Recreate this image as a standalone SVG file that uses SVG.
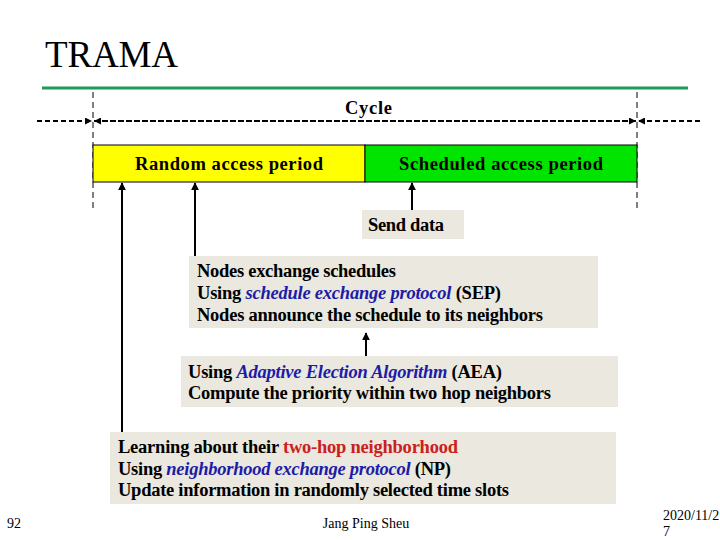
<svg xmlns="http://www.w3.org/2000/svg" width="720" height="540" viewBox="0 0 720 540">
<style>
.t{font-family:"Liberation Serif","Times New Roman",serif;font-weight:bold;font-size:18.5px;fill:#000}
.b{fill:#1c1ca8;font-style:italic}
.r{fill:#cc2020}
.box{fill:#ebe8df}
.dash{stroke:#000;stroke-width:2;stroke-dasharray:5,3;fill:none}
.vd{stroke:#000;stroke-width:1;stroke-dasharray:6,4;fill:none}
.arr{stroke:#000;stroke-width:2;fill:none;marker-end:url(#ah)}
.foot{font-family:"Liberation Serif","Times New Roman",serif;font-size:14px;fill:#000}
</style>
<defs>
<marker id="ah" viewBox="0 0 10 10" refX="9" refY="5" markerWidth="4" markerHeight="4" orient="auto"><path d="M0,0L10,5L0,10z" fill="#000"/></marker>
<marker id="ah2" viewBox="0 0 10 10" refX="10" refY="5" markerWidth="3.5" markerHeight="3.5" orient="auto"><path d="M0,0L10,5L0,10z" fill="#000"/></marker>
</defs>
<rect width="720" height="540" fill="#fff"/>
<text x="45" y="67" font-family="Liberation Serif,Times New Roman,serif" font-size="37" textLength="133">TRAMA</text>
<line x1="42" y1="88" x2="688" y2="88" stroke="#1f9a5c" stroke-width="3"/>
<g id="connectors">
<line class="vd" x1="93" y1="92" x2="93" y2="210"/>
<line class="vd" x1="637" y1="92" x2="637" y2="210"/>
<line class="dash" x1="37" y1="121" x2="92" y2="121" marker-end="url(#ah2)"/>
<line class="dash" x1="636" y1="121" x2="94" y2="121" marker-end="url(#ah2)"/>
<line class="dash" x1="94" y1="121" x2="636" y2="121" marker-end="url(#ah2)"/>
<line class="dash" x1="700" y1="121" x2="638" y2="121" marker-end="url(#ah2)"/>
<line class="arr" x1="122" y1="432" x2="122" y2="183"/>
<line class="arr" x1="195" y1="256" x2="195" y2="183"/>
<line class="arr" x1="412" y1="210" x2="412" y2="183"/>
<line class="arr" x1="366" y1="356" x2="366" y2="333"/>
</g>
<text class="t" x="345" y="114" textLength="47">Cycle</text>
<g id="random">
<rect x="93" y="145" width="272" height="37" fill="#ffff00" stroke="#000" stroke-width="1"/>
<text class="t" x="135" y="170" textLength="188">Random access period</text>
</g>
<g id="scheduled">
<rect x="365" y="145" width="272" height="37" fill="#00e400" stroke="#000" stroke-width="1"/>
<text class="t" x="399" y="170" textLength="204">Scheduled access period</text>
</g>
<g id="send">
<rect class="box" x="362" y="210" width="102" height="29"/>
<text class="t" x="368" y="231" textLength="76">Send data</text>
</g>
<g id="sep">
<rect class="box" x="189" y="256" width="409" height="72"/>
<text class="t" x="197" y="277" textLength="199">Nodes exchange schedules</text>
<text class="t" x="197" y="299" textLength="304">Using <tspan class="b">schedule exchange protocol</tspan> (SEP)</text>
<text class="t" x="197" y="321" textLength="346">Nodes announce the schedule to its neighbors</text>
</g>
<g id="aea">
<rect class="box" x="181" y="356" width="437" height="51"/>
<text class="t" x="188" y="378" textLength="314">Using <tspan class="b">Adaptive Election Algorithm</tspan> (AEA)</text>
<text class="t" x="188" y="399" textLength="363">Compute the priority within two hop neighbors</text>
</g>
<g id="np">
<rect class="box" x="110" y="432" width="506" height="72"/>
<text class="t" x="118" y="453" textLength="340">Learning about their <tspan class="r">two-hop neighborhood</tspan></text>
<text class="t" x="118" y="475" textLength="333">Using <tspan class="b">neighborhood exchange protocol</tspan> (NP)</text>
<text class="t" x="118" y="496" textLength="391">Update information in randomly selected time slots</text>
</g>
<text class="foot" x="7" y="528">92</text>
<text class="foot" x="366" y="528" text-anchor="middle">Jang Ping Sheu</text>
<text class="foot" x="663" y="520" font-size="13">2020/11/2</text>
<text class="foot" x="663" y="536" font-size="10">7</text>
</svg>
